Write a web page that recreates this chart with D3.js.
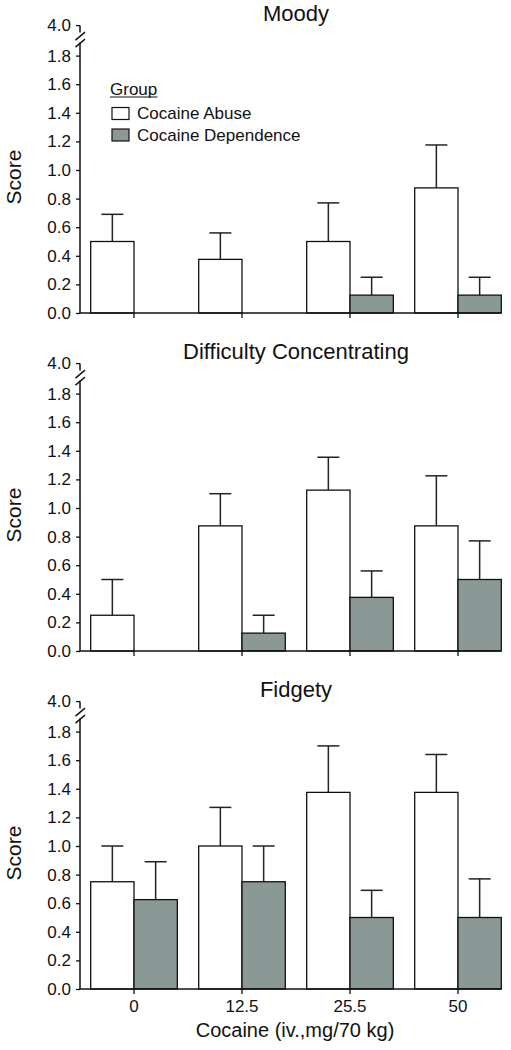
<!DOCTYPE html>
<html><head><meta charset="utf-8">
<script src="https://cdn.jsdelivr.net/npm/d3@7"></script>
<style>body{margin:0;background:#fff}svg{display:block}text{font-family:"Liberation Sans",Arial,sans-serif;fill:#111}</style>
</head><body>
<script>
const doses = ["0", "12.5", "25.5", "50"];
const groups = ["Cocaine Abuse", "Cocaine Dependence"];
const panelTitles = ["Moody", "Difficulty Concentrating", "Fidgety"];
const yTicks = [0, 0.2, 0.4, 0.6, 0.8, 1.0, 1.2, 1.4, 1.6, 1.8];
const breakTick = 4.0;
// means
const moodyAbuse = [0.5, 0.375, 0.5, 0.875];
const moodyDep = [0, 0, 0.125, 0.125];
const diffAbuse = [0.25, 0.875, 1.125, 0.875];
const diffDep = [0, 0.125, 0.375, 0.5];
const fidgAbuse = [0.75, 1.0, 1.375, 1.375];
const fidgDep = [0.625, 0.75, 0.5, 0.5];
// upper error (mean + SEM)
const moodyAbuseErr = [0.69, 0.56, 0.77, 1.175];
const moodyDepErr = [0, 0, 0.25, 0.25];
const diffAbuseErr = [0.5, 1.1, 1.355, 1.225];
const diffDepErr = [0, 0.25, 0.56, 0.77];
const fidgAbuseErr = [1.0, 1.27, 1.7, 1.64];
const fidgDepErr = [0.89, 1.0, 0.69, 0.77];

const panels = [
  {title: panelTitles[0], vals: [moodyAbuse, moodyDep], errs: [moodyAbuseErr, moodyDepErr]},
  {title: panelTitles[1], vals: [diffAbuse, diffDep], errs: [diffAbuseErr, diffDepErr]},
  {title: panelTitles[2], vals: [fidgAbuse, fidgDep], errs: [fidgAbuseErr, fidgDepErr]}
];
const colors = {"Cocaine Abuse": "#ffffff", "Cocaine Dependence": "#8a9996"};

const W = 511, H = 1050;
const svg = d3.select("body").append("svg").attr("width", W).attr("height", H);

const x = d3.scaleBand().domain(doses).range([80, 512]).padding(0);
const barW = 43.3;
const xg = d3.scaleBand().domain(groups).range([-barW, barW]).padding(0);

panels.forEach((p, i) => {
  const base = 313 + 338 * i;
  const y = d3.scaleLinear().domain([0, 1.8]).range([base, base - 257.4]);
  const yb = d3.scaleLinear().domain([1.8, 4.0]).range([y(1.8), y(1.8) - 30]);
  const g = svg.append("g");

  // title
  g.append("text").attr("x", 296).attr("y", base - 291.7).attr("text-anchor", "middle")
    .attr("font-size", 22).text(p.title);

  // y axis
  const ya = g.append("g").attr("transform", "translate(80,0)")
    .call(d3.axisLeft(y).tickValues(yTicks).tickFormat(d3.format(".1f")).tickSize(4).tickPadding(5));
  ya.select(".domain").remove();
  ya.selectAll("text").attr("font-size", 17).attr("font-family", "Liberation Sans, Arial, sans-serif").attr("fill", "#111");
  ya.selectAll("line").attr("stroke", "#111").attr("stroke-width", 1.3);
  const top = yb(breakTick);
  // lower axis segment
  g.append("line").attr("x1", 80).attr("x2", 80).attr("y1", y(1.8) - 13).attr("y2", base)
    .attr("stroke", "#111").attr("stroke-width", 1.5);
  // upper stub
  g.append("line").attr("x1", 80).attr("x2", 80).attr("y1", top).attr("y2", top + 7)
    .attr("stroke", "#111").attr("stroke-width", 1.5);
  g.append("line").attr("x1", 76).attr("x2", 80).attr("y1", top).attr("y2", top)
    .attr("stroke", "#111").attr("stroke-width", 1.3);
  g.append("text").attr("x", 71).attr("y", top).attr("dy", "0.32em").attr("text-anchor", "end")
    .attr("font-size", 17).text(d3.format(".1f")(breakTick));
  // break slashes
  [top + 10, top + 17].forEach(cy => {
    g.append("line").attr("x1", 75.5).attr("x2", 85).attr("y1", cy + 4.5).attr("y2", cy - 3.5)
      .attr("stroke", "#111").attr("stroke-width", 1.4);
  });

  // bars
  groups.forEach((grp, gi) => {
    doses.forEach((d, di) => {
      const v = p.vals[gi][di];
      if (v <= 0) return;
      const bx = x(d) + x.bandwidth() / 2 + xg(grp);
      const e = p.errs[gi][di];
      const cx = bx + barW / 2;
      g.append("line").attr("x1", cx).attr("x2", cx).attr("y1", y(v)).attr("y2", y(e))
        .attr("stroke", "#222").attr("stroke-width", 1.5);
      g.append("line").attr("x1", cx - 11).attr("x2", cx + 11).attr("y1", y(e)).attr("y2", y(e))
        .attr("stroke", "#222").attr("stroke-width", 1.5);
      g.append("rect").attr("x", bx).attr("y", y(v)).attr("width", barW).attr("height", base - y(v))
        .attr("fill", colors[grp]).attr("stroke", "#111").attr("stroke-width", 1.3);
    });
  });

  // x axis
  const xa = g.append("g").attr("transform", `translate(0,${base})`)
    .call(d3.axisBottom(x).tickSize(5).tickPadding(6).tickFormat(i === 2 ? (d => d) : () => ""));
  xa.select(".domain").remove();
  xa.selectAll("line").attr("stroke", "#111").attr("stroke-width", 1.3);
  xa.selectAll("text").attr("font-size", 17).attr("font-family", "Liberation Sans, Arial, sans-serif").attr("fill", "#111");
  const xEnd = x(doses[doses.length - 1]) + x.bandwidth() / 2 + barW;
  g.append("line").attr("x1", 79.3).attr("x2", xEnd).attr("y1", base).attr("y2", base)
    .attr("stroke", "#111").attr("stroke-width", 1.5);

  // y label
  g.append("text").attr("transform", `translate(21,${base - 136}) rotate(-90)`)
    .attr("text-anchor", "middle").attr("font-size", 21).text("Score");

  if (i === 0) {
    const lg = g.append("g");
    lg.append("text").attr("x", 110).attr("y", 95).attr("font-size", 17).text("Group");
    lg.append("line").attr("x1", 110).attr("x2", 157.5).attr("y1", 97).attr("y2", 97)
      .attr("stroke", "#111").attr("stroke-width", 1.2);
    groups.forEach((grp, gi) => {
      const cy = 113.5 + gi * 21.5;
      lg.append("rect").attr("x", 112).attr("y", cy - 6).attr("width", 17).attr("height", 12)
        .attr("fill", colors[grp]).attr("stroke", "#111").attr("stroke-width", 1.2);
      lg.append("text").attr("x", 137).attr("y", cy).attr("dy", "0.35em").attr("font-size", 17).text(grp);
    });
  }
  if (i === 2) {
    g.append("text").attr("x", 295).attr("y", base + 48).attr("text-anchor", "middle")
      .attr("font-size", 20).text("Cocaine (iv.,mg/70 kg)");
  }
});
</script>
</body></html>
